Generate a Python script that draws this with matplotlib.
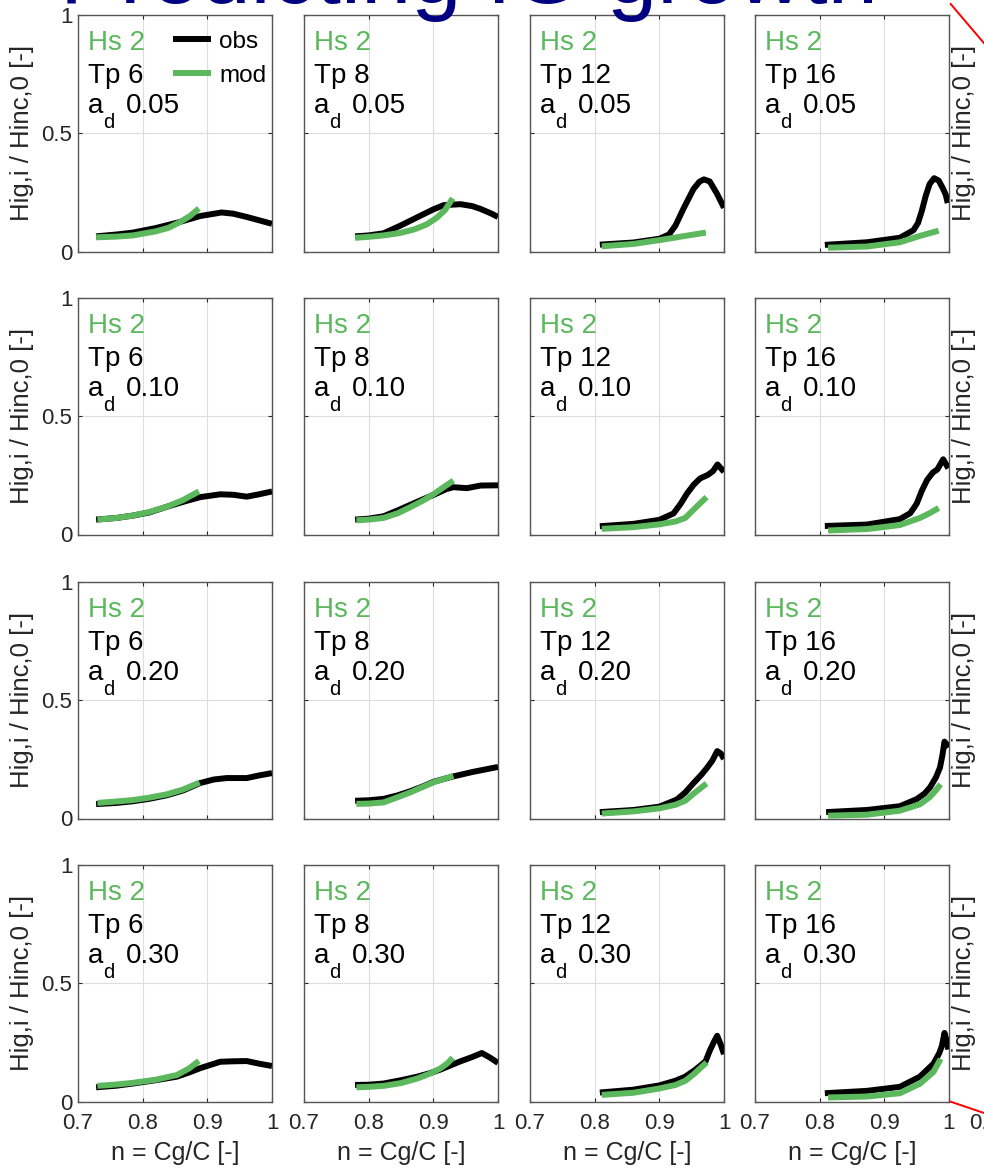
import matplotlib

matplotlib.use("Agg")
import matplotlib.pyplot as plt
from matplotlib.lines import Line2D

plt.rcParams["font.family"] = ["Liberation Sans", "DejaVu Sans"]

GREEN = "#5cb85c"
NAVY = "#000080"

tp_values = [6, 8, 12, 16]
ad_labels = ["0.05", "0.10", "0.20", "0.30"]
hs_label = "Hs 2"

x_ticks = [0.7, 0.8, 0.9, 1.0]
x_ticklabels = ["0.7", "0.8", "0.9", "1"]
y_ticks = [0, 0.5, 1]
y_ticklabels = ["0", "0.5", "1"]

# --- a_d = 0.05 ---------------------------------------------------------
obs_tp6_a05 = [(0.728, 0.064), (0.76, 0.072), (0.785, 0.080), (0.82, 0.099), (0.855, 0.123),
               (0.889, 0.150), (0.922, 0.165), (0.94, 0.160), (0.961, 0.146), (0.98, 0.132), (1.0, 0.117)]
mod_tp6_a05 = [(0.728, 0.060), (0.76, 0.063), (0.785, 0.068), (0.82, 0.085), (0.84, 0.100),
               (0.858, 0.125), (0.873, 0.150), (0.887, 0.182)]
obs_tp8_a05 = [(0.779, 0.064), (0.80, 0.068), (0.823, 0.077), (0.848, 0.108), (0.868, 0.135),
               (0.885, 0.158), (0.9, 0.178), (0.916, 0.196), (0.942, 0.200), (0.96, 0.192),
               (0.973, 0.180), (0.99, 0.160), (1.0, 0.146)]
mod_tp8_a05 = [(0.779, 0.058), (0.80, 0.062), (0.823, 0.068), (0.848, 0.078), (0.87, 0.093),
               (0.89, 0.115), (0.905, 0.142), (0.918, 0.175), (0.930, 0.225)]
obs_tp12_a05 = [(0.808, 0.029), (0.86, 0.038), (0.90, 0.054), (0.915, 0.072), (0.925, 0.11),
                (0.938, 0.185), (0.953, 0.265), (0.962, 0.295), (0.969, 0.305), (0.978, 0.296),
                (0.989, 0.245), (1.0, 0.185)]
mod_tp12_a05 = [(0.811, 0.022), (0.86, 0.032), (0.90, 0.048), (0.938, 0.065), (0.972, 0.080)]
obs_tp16_a05 = [(0.808, 0.028), (0.873, 0.039), (0.924, 0.058), (0.945, 0.09), (0.952, 0.12),
                (0.958, 0.172), (0.964, 0.235), (0.970, 0.285), (0.977, 0.31), (0.984, 0.30),
                (0.990, 0.27), (0.995, 0.24), (0.998, 0.205)]
mod_tp16_a05 = [(0.813, 0.016), (0.873, 0.021), (0.924, 0.039), (0.955, 0.066), (0.984, 0.088)]

# --- a_d = 0.10 ---------------------------------------------------------
obs_tp6_a10 = [(0.728, 0.063), (0.76, 0.070), (0.785, 0.080), (0.81, 0.093), (0.837, 0.117),
               (0.865, 0.140), (0.889, 0.158), (0.92, 0.170), (0.94, 0.168), (0.961, 0.160),
               (0.98, 0.170), (1.0, 0.182)]
mod_tp6_a10 = [(0.73, 0.063), (0.76, 0.070), (0.785, 0.080), (0.81, 0.095), (0.837, 0.117),
               (0.862, 0.145), (0.887, 0.182)]
obs_tp8_a10 = [(0.779, 0.063), (0.80, 0.067), (0.823, 0.077), (0.845, 0.102), (0.864, 0.125),
               (0.885, 0.150), (0.9, 0.167), (0.92, 0.192), (0.931, 0.200), (0.952, 0.196),
               (0.973, 0.207), (1.0, 0.208)]
mod_tp8_a10 = [(0.781, 0.060), (0.80, 0.063), (0.823, 0.070), (0.845, 0.09), (0.864, 0.115),
               (0.885, 0.145), (0.9, 0.170), (0.915, 0.198), (0.931, 0.228)]
obs_tp12_a10 = [(0.808, 0.035), (0.86, 0.045), (0.90, 0.062), (0.922, 0.089), (0.933, 0.13),
                (0.943, 0.174), (0.953, 0.21), (0.963, 0.237), (0.975, 0.252), (0.983, 0.268),
                (0.99, 0.296), (1.0, 0.265)]
mod_tp12_a10 = [(0.811, 0.024), (0.86, 0.031), (0.90, 0.043), (0.925, 0.055), (0.94, 0.07),
                (0.953, 0.105), (0.973, 0.158)]
obs_tp16_a10 = [(0.808, 0.036), (0.873, 0.042), (0.924, 0.065), (0.94, 0.09), (0.950, 0.13),
                (0.958, 0.185), (0.966, 0.23), (0.975, 0.262), (0.982, 0.275), (0.991, 0.318),
                (0.999, 0.28)]
mod_tp16_a10 = [(0.813, 0.017), (0.873, 0.023), (0.924, 0.040), (0.955, 0.07), (0.970, 0.09),
                (0.984, 0.112)]

# --- a_d = 0.20 ---------------------------------------------------------
obs_tp6_a20 = [(0.728, 0.061), (0.76, 0.066), (0.785, 0.073), (0.81, 0.083), (0.837, 0.098),
               (0.862, 0.118), (0.889, 0.150), (0.91, 0.165), (0.93, 0.171), (0.961, 0.171),
               (0.98, 0.182), (1.0, 0.192)]
mod_tp6_a20 = [(0.73, 0.066), (0.76, 0.072), (0.785, 0.078), (0.81, 0.088), (0.837, 0.102),
               (0.862, 0.122), (0.888, 0.152)]
obs_tp8_a20 = [(0.779, 0.075), (0.80, 0.077), (0.823, 0.083), (0.845, 0.098), (0.864, 0.115),
               (0.885, 0.137), (0.9, 0.155), (0.931, 0.178), (0.961, 0.197), (1.0, 0.218)]
mod_tp8_a20 = [(0.781, 0.062), (0.80, 0.063), (0.823, 0.068), (0.845, 0.09), (0.864, 0.110),
               (0.885, 0.135), (0.9, 0.153), (0.931, 0.180)]
obs_tp12_a20 = [(0.808, 0.027), (0.86, 0.036), (0.90, 0.05), (0.927, 0.08), (0.94, 0.11),
                (0.953, 0.15), (0.965, 0.185), (0.974, 0.215), (0.982, 0.245), (0.9895, 0.285),
                (0.995, 0.275), (1.0, 0.252)]
mod_tp12_a20 = [(0.811, 0.021), (0.86, 0.030), (0.90, 0.043), (0.925, 0.058), (0.94, 0.075),
                (0.953, 0.105), (0.973, 0.148)]
obs_tp16_a20 = [(0.810, 0.027), (0.873, 0.036), (0.924, 0.052), (0.950, 0.082), (0.962, 0.105),
                (0.971, 0.133), (0.980, 0.175), (0.986, 0.215), (0.990, 0.27), (0.993, 0.325),
                (0.996, 0.315), (0.999, 0.30)]
mod_tp16_a20 = [(0.813, 0.012), (0.873, 0.016), (0.924, 0.033), (0.955, 0.06), (0.970, 0.09),
                (0.980, 0.12), (0.987, 0.145)]

# --- a_d = 0.30 ---------------------------------------------------------
obs_tp6_a30 = [(0.728, 0.060), (0.76, 0.067), (0.785, 0.076), (0.82, 0.090), (0.853, 0.105),
               (0.872, 0.123), (0.889, 0.141), (0.905, 0.155), (0.92, 0.168), (0.94, 0.170),
               (0.961, 0.171), (0.98, 0.160), (1.0, 0.150)]
mod_tp6_a30 = [(0.73, 0.066), (0.76, 0.072), (0.785, 0.079), (0.82, 0.092), (0.853, 0.112),
               (0.872, 0.140), (0.887, 0.172)]
obs_tp8_a30 = [(0.779, 0.070), (0.80, 0.071), (0.823, 0.076), (0.85, 0.09), (0.875, 0.105),
               (0.895, 0.120), (0.911, 0.135), (0.942, 0.170), (0.96, 0.188), (0.975, 0.205),
               (0.988, 0.185), (1.0, 0.163)]
mod_tp8_a30 = [(0.781, 0.060), (0.80, 0.062), (0.823, 0.066), (0.85, 0.078), (0.875, 0.097),
               (0.895, 0.118), (0.911, 0.140), (0.922, 0.162), (0.930, 0.185)]
obs_tp12_a30 = [(0.808, 0.038), (0.86, 0.05), (0.90, 0.068), (0.925, 0.088), (0.94, 0.105),
                (0.956, 0.135), (0.9715, 0.170), (0.978, 0.215), (0.985, 0.255), (0.9895, 0.278),
                (0.995, 0.24), (1.0, 0.20)]
mod_tp12_a30 = [(0.811, 0.028), (0.86, 0.037), (0.90, 0.055), (0.925, 0.07), (0.9405, 0.088),
                (0.953, 0.115), (0.973, 0.165)]
obs_tp16_a30 = [(0.808, 0.035), (0.873, 0.045), (0.924, 0.062), (0.955, 0.105), (0.976, 0.160),
                (0.985, 0.205), (0.989, 0.235), (0.993, 0.29), (0.996, 0.26), (0.999, 0.22)]
mod_tp16_a30 = [(0.813, 0.017), (0.873, 0.021), (0.924, 0.035), (0.955, 0.075), (0.976, 0.125),
                (0.987, 0.180)]

obs_rows = [
    [obs_tp6_a05, obs_tp8_a05, obs_tp12_a05, obs_tp16_a05],
    [obs_tp6_a10, obs_tp8_a10, obs_tp12_a10, obs_tp16_a10],
    [obs_tp6_a20, obs_tp8_a20, obs_tp12_a20, obs_tp16_a20],
    [obs_tp6_a30, obs_tp8_a30, obs_tp12_a30, obs_tp16_a30],
]
mod_rows = [
    [mod_tp6_a05, mod_tp8_a05, mod_tp12_a05, mod_tp16_a05],
    [mod_tp6_a10, mod_tp8_a10, mod_tp12_a10, mod_tp16_a10],
    [mod_tp6_a20, mod_tp8_a20, mod_tp12_a20, mod_tp16_a20],
    [mod_tp6_a30, mod_tp8_a30, mod_tp12_a30, mod_tp16_a30],
]

# layout in pixels
W, H = 984, 1168
COL_LEFT = [78, 304, 530, 755, 985]
ROW_TOP = [15, 298, 582, 865]
AX_W, AX_H = 194, 236.5

YLABEL = "Hig,i / Hinc,0 [-]"
XLABEL = "n = Cg/C [-]"
TEXT_GREY = "#262626"

fig = plt.figure(figsize=(W / 100, H / 100), dpi=100)


def style_axes(ax, show_x, show_y):
    ax.set_xlim(0.7, 1.0)
    ax.set_ylim(0, 1)
    ax.set_xticks(x_ticks)
    ax.set_yticks(y_ticks)
    ax.set_xticklabels(x_ticklabels if show_x else [])
    ax.set_yticklabels(y_ticklabels if show_y else [])
    ax.tick_params(direction="in", length=3, width=0.8, top=True, right=True,
                   labelsize=16, labelcolor=TEXT_GREY, color=TEXT_GREY)
    ax.tick_params(axis="x", pad=8.5)
    ax.tick_params(axis="y", pad=4)
    ax.grid(True, color="#dddddd", lw=0.8)
    ax.set_axisbelow(True)
    for sp in ax.spines.values():
        sp.set_color("#555555")
        sp.set_linewidth(1.0)


def unzip(points):
    return [p[0] for p in points], [p[1] for p in points]


for r in range(4):
    for c in range(5):
        left = COL_LEFT[c] / W
        bottom = 1 - (ROW_TOP[r] + AX_H) / H
        ax = fig.add_axes([left, bottom, AX_W / W, AX_H / H])
        style_axes(ax, show_x=(r == 3), show_y=(c == 0))
        if c == 0:
            ax.set_ylabel(YLABEL, fontsize=18.5, color=TEXT_GREY)
            ax.yaxis.set_label_coords((34 - COL_LEFT[0]) / AX_W, 0.5)
        if c == 4:
            ax.set_ylabel(YLABEL, fontsize=18.5, color=TEXT_GREY)
            ax.yaxis.set_label_coords((976 - COL_LEFT[4]) / AX_W, 0.5)
        if r == 3:
            ax.set_xlabel(XLABEL, fontsize=18, color=TEXT_GREY, labelpad=5)
        if c == 4:
            continue

        ox, oy = unzip(obs_rows[r][c])
        mx, my = unzip(mod_rows[r][c])
        ax.plot(ox, oy, color="black", lw=4.3, solid_capstyle="butt",
                solid_joinstyle="round", label="obs", zorder=3)
        ax.plot(mx, my, color=GREEN, lw=4.3, solid_capstyle="butt",
                solid_joinstyle="round", label="mod", zorder=4)

        ax.text(0.05, 0.852, hs_label, transform=ax.transAxes, fontsize=20,
                color=GREEN, va="baseline")
        ax.text(0.05, 0.711, f"Tp {tp_values[c]}", transform=ax.transAxes,
                fontsize=20, color="black", va="baseline")
        ax.text(0.05, 0.585, "a", transform=ax.transAxes, fontsize=20,
                color="black", va="baseline")
        ax.text(0.132, 0.522, "d", transform=ax.transAxes, fontsize=14.5,
                color="black", va="baseline")
        ax.text(0.246, 0.585, ad_labels[r], transform=ax.transAxes,
                fontsize=20, color="black", va="baseline")

        if r == 0 and c == 0:
            ax.legend(loc="upper right", bbox_to_anchor=(1.02, 0.975), frameon=False,
                      fontsize=17.5, handlelength=1.55, handletextpad=0.35,
                      labelspacing=0.5, borderaxespad=0.2, borderpad=0.2)

fig.text(60 / W, 1 - 3 / H, "Predicting IG growth", fontsize=65, color=NAVY,
         ha="left", va="baseline")

# red pointer strokes on the right edge
fig.add_artist(Line2D([950.7 / W, 1000 / W], [1 - 4 / H, 1 - 62 / H],
                      color="red", lw=1.4, transform=fig.transFigure))
fig.add_artist(Line2D([950.7 / W, 1000 / W], [1 - 1101.7 / H, 1 - 1118.4 / H],
                      color="red", lw=1.4, transform=fig.transFigure))

fig.savefig("out.png", dpi=100)
